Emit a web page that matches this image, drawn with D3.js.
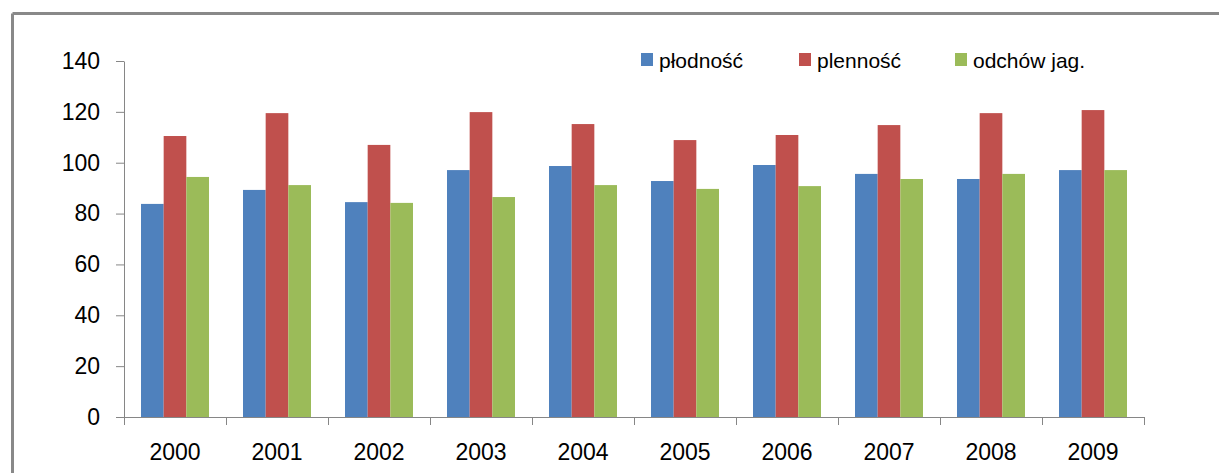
<!DOCTYPE html>
<html>
<head>
<meta charset="utf-8">
<script src="https://cdn.jsdelivr.net/npm/d3@7"></script>
<style>
  body { margin: 0; background: #fff; }
  text { font-family: "Liberation Sans", Arial, sans-serif; fill: #000; }
</style>
</head>
<body>
<svg id="canvas" width="1219" height="473"></svg>
<script>
// chart data
const years = ["2000","2001","2002","2003","2004","2005","2006","2007","2008","2009"];
const seriesNames = ["płodność", "plenność", "odchów jag."];
const plodnosc = [83.8, 89.3, 84.5, 97.1, 98.7, 92.8, 99.1, 95.6, 93.6, 97.1];
const plennosc = [110.5, 119.5, 107, 119.9, 115.2, 108.9, 110.9, 114.8, 119.5, 120.7];
const odchow = [94.4, 91.2, 84.2, 86.5, 91.2, 89.7, 90.8, 93.6, 95.6, 97.1];
const yTicks = [0, 20, 40, 60, 80, 100, 120, 140];

const colors = ["#4f81bd", "#c0504d", "#9bbb59"];
const axisColor = "#868686";

let svg = d3.select('#canvas');

// outer frame (only top and left edges are visible in the picture)
svg.append('line').attr('x1', 12.5).attr('x2', 1219).attr('y1', 13.5).attr('y2', 13.5)
    .attr('stroke', '#898989').attr('stroke-width', 3);
svg.append('line').attr('x1', 12.5).attr('x2', 12.5).attr('y1', 13.5).attr('y2', 473)
    .attr('stroke', '#898989').attr('stroke-width', 3);

const plotLeft = 124, plotRight = 1144, plotTop = 61, plotBottom = 417;

let x = d3.scaleBand().domain(years).range([plotLeft, plotRight]).paddingInner(0).paddingOuter(0);
let y = d3.scaleLinear().domain([0, 140]).range([plotBottom, plotTop]);
let inner = d3.scaleBand().domain(seriesNames).range([0, x.bandwidth() * 2 / 3]);

let rows = years.map((yr, i) => ({year: yr, values: [plodnosc[i], plennosc[i], odchow[i]]}));

// bars
let groups = svg.append('g').selectAll('g')
    .data(rows)
    .join('g')
    .attr('transform', d => `translate(${x(d.year) + x.bandwidth() / 6},0)`);

groups.selectAll('rect')
    .data(d => d.values.map((v, k) => ({name: seriesNames[k], value: v, k: k})))
    .join('rect')
    .attr('x', d => inner(d.name))
    .attr('width', inner.bandwidth())
    .attr('y', d => y(d.value))
    .attr('height', d => y(0) - y(d.value))
    .attr('fill', d => colors[d.k]);

// y axis
let yAxis = svg.append('g')
    .attr('transform', `translate(${plotLeft},0)`)
    .call(d3.axisLeft(y).tickValues(yTicks).tickSize(8).tickPadding(16).tickSizeOuter(0));
yAxis.select('.domain').attr('stroke', axisColor);
yAxis.selectAll('.tick line').attr('stroke', axisColor);
yAxis.selectAll('.tick text').style('font-size', '23px').attr('fill', '#000');

// x axis: ticks sit on band edges
let xAxis = svg.append('g').attr('transform', `translate(0,${plotBottom})`);
xAxis.append('line').attr('x1', plotLeft).attr('x2', plotRight).attr('y1', 0.5).attr('y2', 0.5)
    .attr('stroke', axisColor);
let edges = years.map(yr => x(yr)).concat([plotRight]);
xAxis.selectAll('line.tk')
    .data(edges)
    .join('line')
    .attr('class', 'tk')
    .attr('x1', d => Math.round(d) + 0.5).attr('x2', d => Math.round(d) + 0.5)
    .attr('y1', 0).attr('y2', 8)
    .attr('stroke', axisColor);
xAxis.selectAll('text')
    .data(years)
    .join('text')
    .attr('x', d => x(d) + x.bandwidth() / 2)
    .attr('y', 43)
    .attr('text-anchor', 'middle')
    .style('font-size', '23px')
    .text(d => d);

// legend
const legendX = [641, 799, 955];
let legend = svg.append('g').selectAll('g')
    .data(seriesNames)
    .join('g')
    .attr('transform', (d, i) => `translate(${legendX[i]},53)`);
legend.append('rect').attr('width', 12).attr('height', 13).attr('fill', (d, i) => colors[i]);
legend.append('text').attr('x', 18).attr('y', 15).style('font-size', '21px').text(d => d);
</script>
</body>
</html>
